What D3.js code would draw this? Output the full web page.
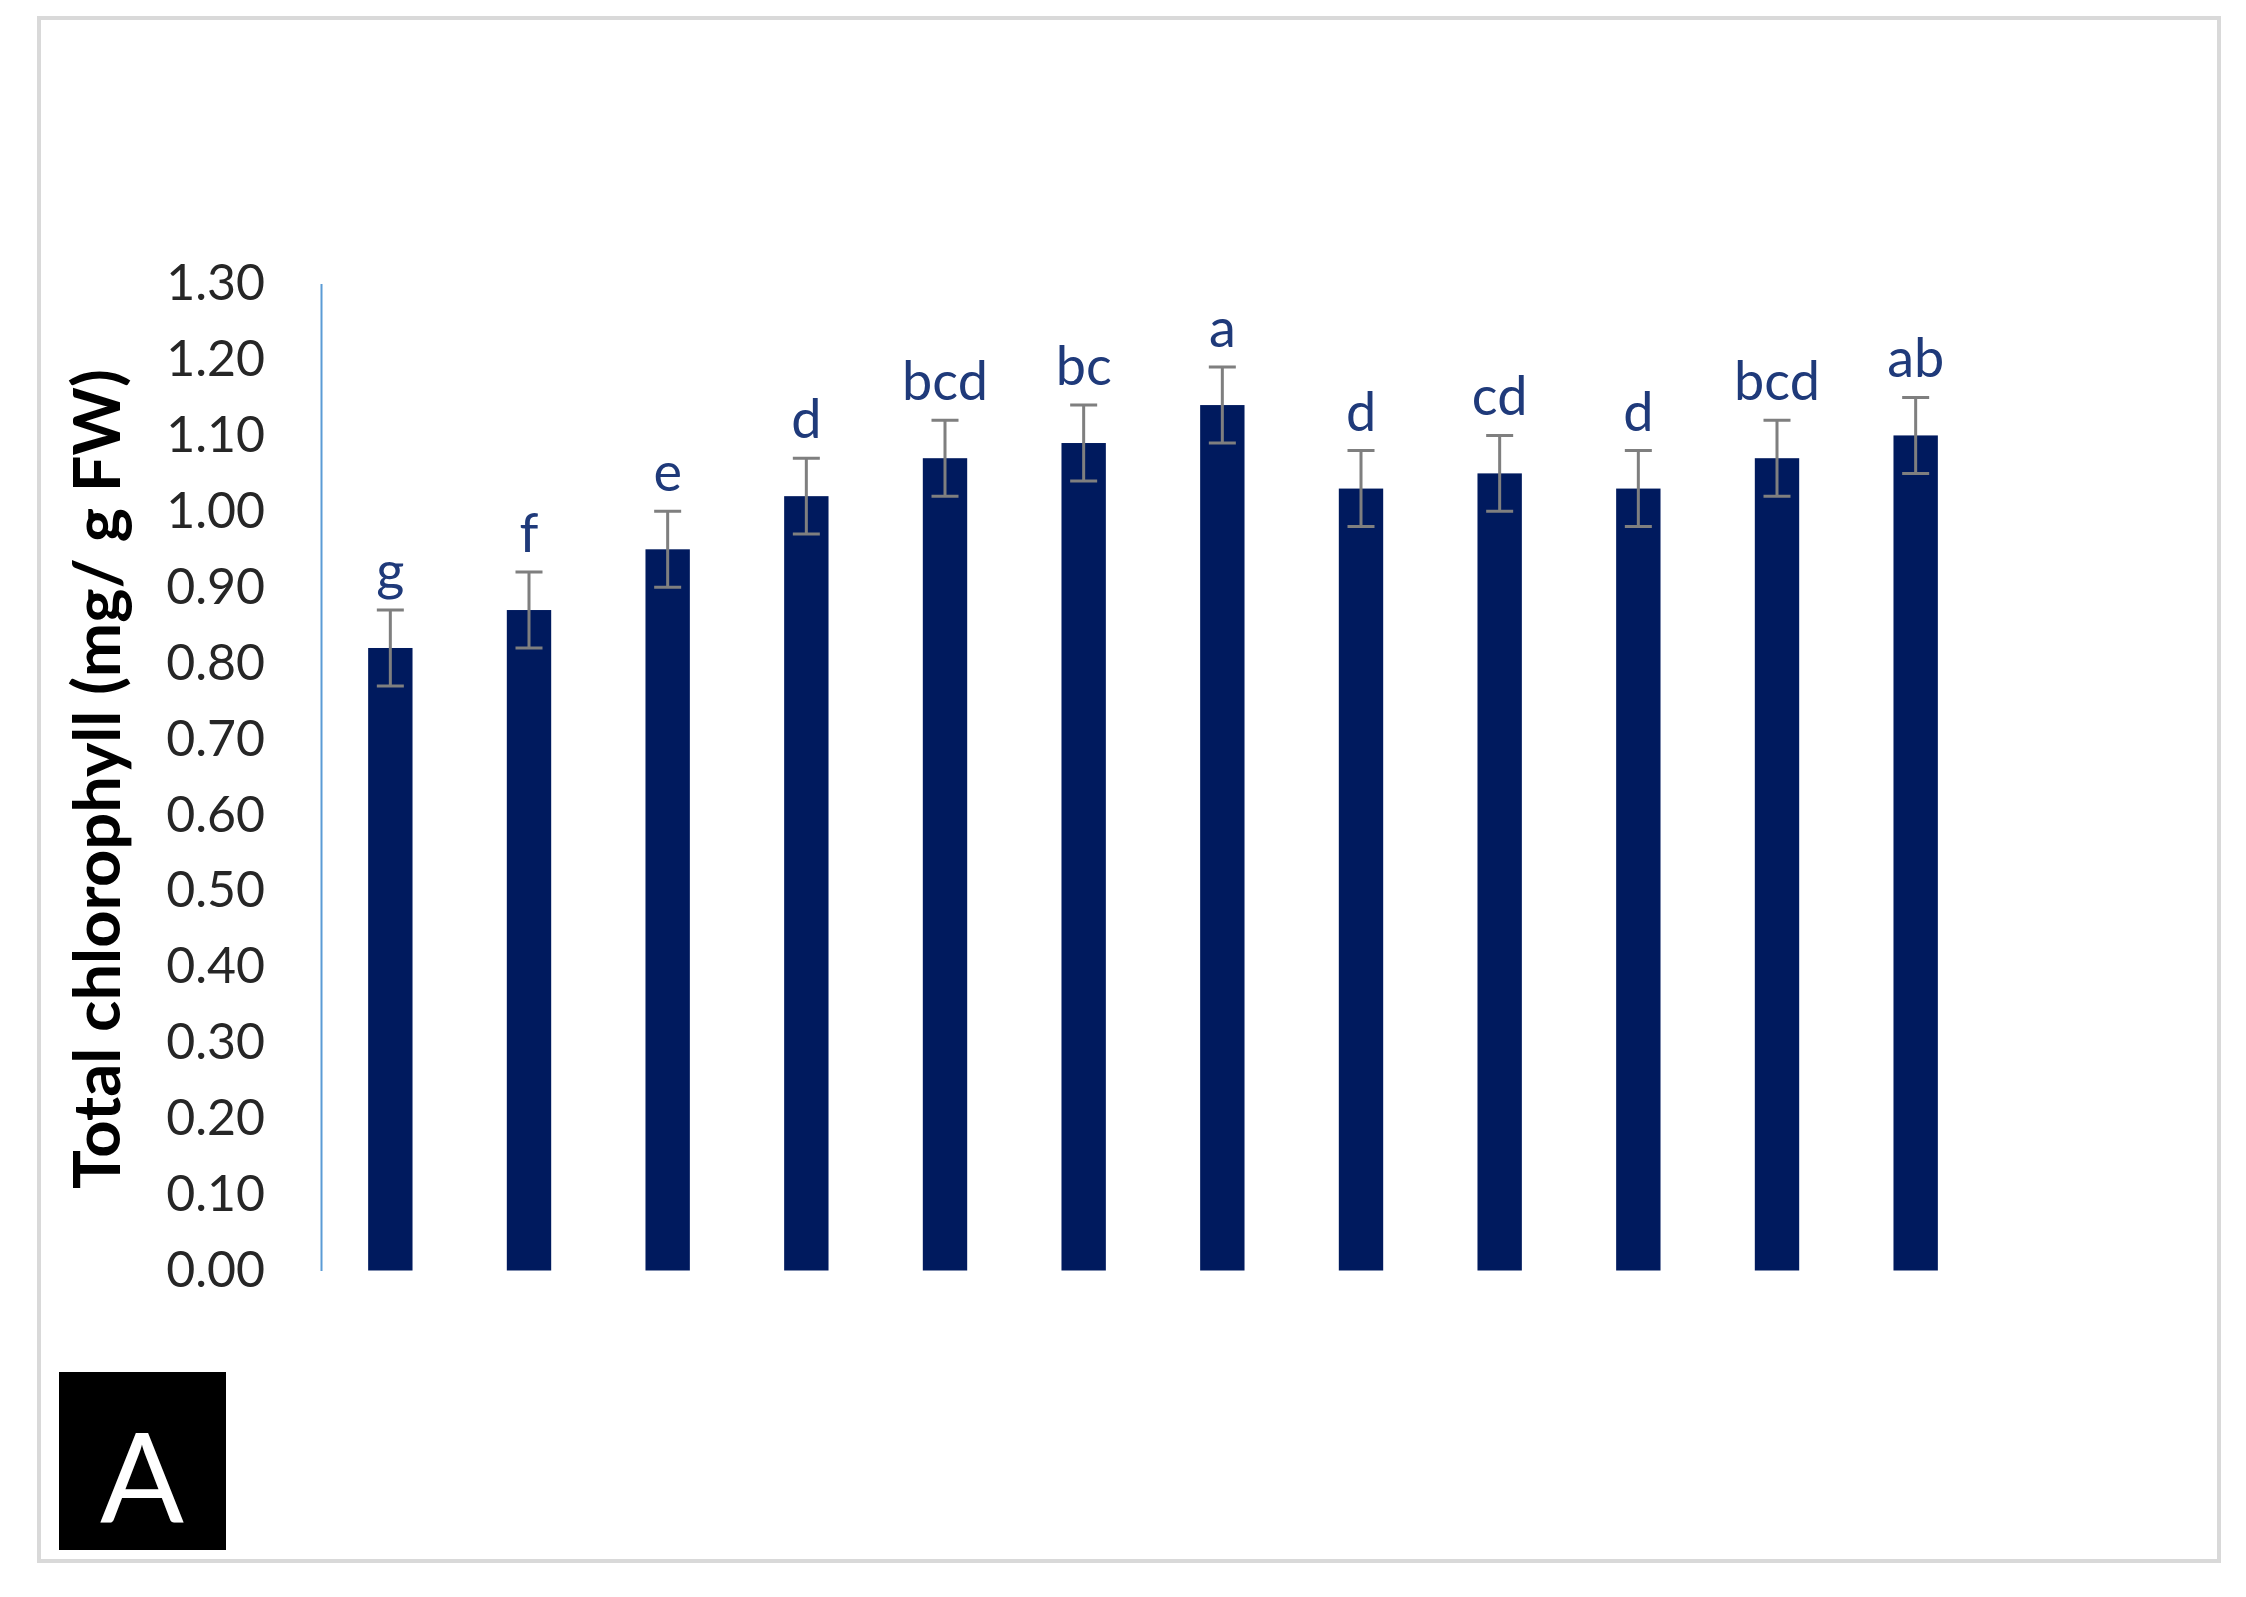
<!DOCTYPE html>
<html>
<head>
<meta charset="utf-8">
<script src="https://cdn.jsdelivr.net/npm/d3@7"></script>
<style>
    body { margin: 0; background: #fff; }
    .tick text { font-family: Lato, "Open Sans", sans-serif; }
</style>
</head>
<body>
<svg id="svg"></svg>
<script>
    // treatments (no labels drawn on the x axis in the original)
    const treatments = ['T1', 'T2', 'T3', 'T4', 'T5', 'T6', 'T7', 'T8', 'T9', 'T10', 'T11', 'T12'];
    const chlorophyll = [0.82, 0.87, 0.95, 1.02, 1.07, 1.09, 1.14, 1.03, 1.05, 1.03, 1.07, 1.10];
    const errors = [0.05, 0.05, 0.05, 0.05, 0.05, 0.05, 0.05, 0.05, 0.05, 0.05, 0.05, 0.05];
    const letters = ['g', 'f', 'e', 'd', 'bcd', 'bc', 'a', 'd', 'cd', 'd', 'bcd', 'ab'];
    const yTicks = [0, 0.1, 0.2, 0.3, 0.4, 0.5, 0.6, 0.7, 0.8, 0.9, 1.0, 1.1, 1.2, 1.3];

    const W = 2246, H = 1597;
    const plot = {left: 321, right: 1985, top: 283.6, bottom: 1270.5};

    const svg = d3.select('#svg')
        .attr('width', W)
        .attr('height', H);

    // outer frame
    svg.append('rect')
        .attr('x', 39).attr('y', 18)
        .attr('width', 2180).attr('height', 1543)
        .attr('fill', '#fff')
        .attr('stroke', '#d9d9d9')
        .attr('stroke-width', 4);

    const x = d3.scaleBand()
        .domain(treatments)
        .range([plot.left, plot.right])
        .paddingInner(0.68)
        .paddingOuter(0.34);

    const y = d3.scaleLinear()
        .domain([0, 1.3])
        .range([plot.bottom, plot.top]);

    const yAxis = d3.axisLeft(y)
        .tickValues(yTicks)
        .tickSize(0)
        .tickPadding(56)
        .tickFormat(d3.format('.2f'));

    const gY = svg.append('g')
        .attr('transform', 'translate(' + plot.left + ',0)')
        .call(yAxis);
    gY.select('.domain')
        .attr('stroke', '#5b9bd5')
        .attr('stroke-width', 2);
    gY.selectAll('.tick text')
        .attr('font-size', 50)
        .attr('fill', '#262626');

    // bars
    svg.append('g').selectAll('rect')
        .data(chlorophyll)
        .join('rect')
        .attr('x', (d, i) => x(treatments[i]))
        .attr('y', d => y(d))
        .attr('width', x.bandwidth())
        .attr('height', d => y(0) - y(d))
        .attr('fill', '#001a5e');

    // error bars
    const capW = 27;
    const eb = svg.append('g')
        .attr('stroke', '#7f7f7f')
        .attr('stroke-width', 3)
        .attr('fill', 'none');
    chlorophyll.forEach((d, i) => {
        const cx = x(treatments[i]) + x.bandwidth() / 2;
        const hi = y(d + errors[i]), lo = y(d - errors[i]);
        eb.append('path')
            .attr('d', 'M' + cx + ',' + hi + 'V' + lo +
                'M' + (cx - capW / 2) + ',' + hi + 'H' + (cx + capW / 2) +
                'M' + (cx - capW / 2) + ',' + lo + 'H' + (cx + capW / 2));
    });

    // significance letters
    svg.append('g').selectAll('text')
        .data(letters)
        .join('text')
        .attr('x', (d, i) => x(treatments[i]) + x.bandwidth() / 2)
        .attr('y', (d, i) => y(chlorophyll[i] + errors[i]) - 20)
        .attr('text-anchor', 'middle')
        .attr('font-family', 'Lato, "Open Sans", sans-serif')
        .attr('font-size', 54)
        .attr('fill', '#1f3a7a')
        .text(d => d);

    // y axis title
    svg.append('text')
        .attr('transform', 'translate(120,' + ((plot.top + plot.bottom) / 2 + 2) + ') rotate(-90)')
        .attr('text-anchor', 'middle')
        .attr('font-family', 'Lato, "Open Sans", sans-serif')
        .attr('font-weight', 'bold')
        .attr('font-size', 65)
        .attr('fill', '#000')
        .text('Total chlorophyll (mg/ g FW)');

    // panel tag
    svg.append('rect')
        .attr('x', 59).attr('y', 1372)
        .attr('width', 167).attr('height', 178)
        .attr('fill', '#000');
    svg.append('text')
        .attr('x', 142).attr('y', 1522)
        .attr('text-anchor', 'middle')
        .attr('font-family', 'Lato, "Open Sans", sans-serif')
        .attr('font-size', 124)
        .attr('fill', '#fff')
        .text('A');
</script>
</body>
</html>
